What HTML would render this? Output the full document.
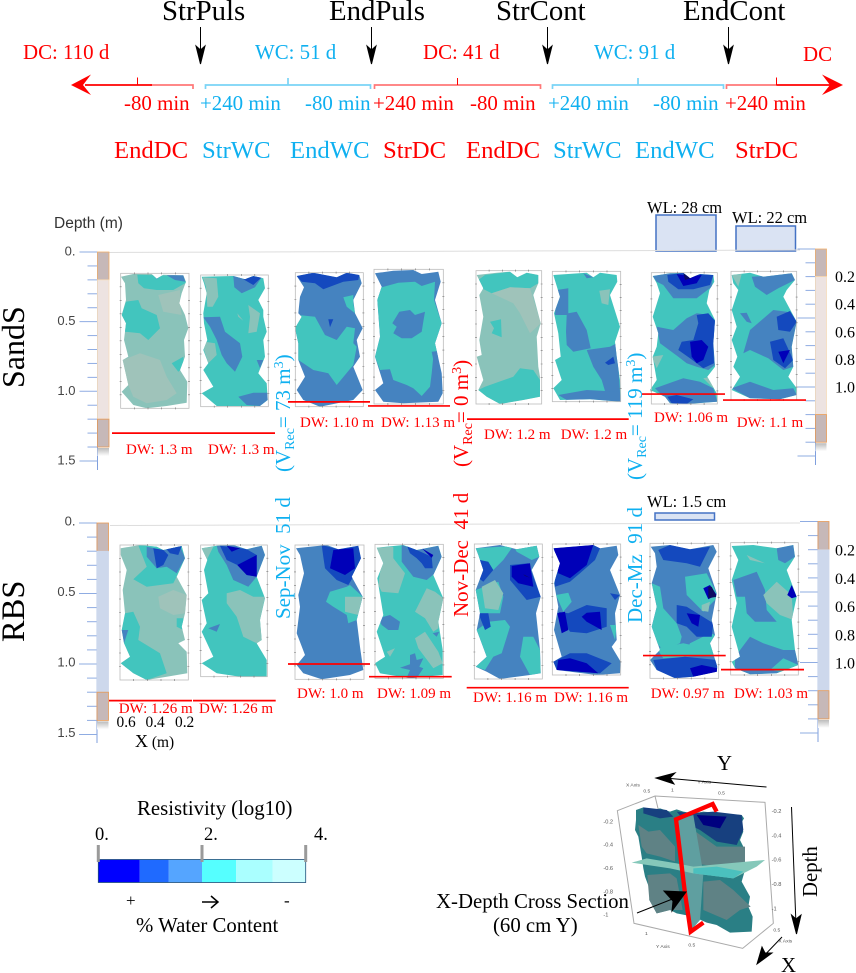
<!DOCTYPE html>
<html lang="en">
<head>
<meta charset="utf-8">
<title>Resistivity panels</title>
<style>
html,body{margin:0;padding:0;background:#fff;}
svg{display:block;}
text{font-family:"Liberation Serif",serif;}
.sans{font-family:"Liberation Sans",sans-serif;}
.r{fill:#FF0000;}
.b{fill:#0FB0F0;}
.k{fill:#000;}
</style>
</head>
<body>
<svg id="fig" xmlns="http://www.w3.org/2000/svg" width="856" height="973" viewBox="0 0 856 973">
<defs>
<linearGradient id="fade" x1="0" y1="0" x2="0" y2="1"><stop offset="0" stop-color="#bbb"/><stop offset="1" stop-color="#fff"/></linearGradient>
</defs>

<!-- timeline -->
<g>
<g font-size="28.8" class="k">
<text x="162" y="20">StrPuls</text>
<text x="329" y="20">EndPuls</text>
<text x="496" y="20">StrCont</text>
<text x="683" y="20">EndCont</text>
</g>
<g stroke="#000" stroke-width="1" fill="#000">
<path d="M200.5 27V50"/><path d="M200.5 64L196 46L200.5 50L205 46Z"/>
<path d="M371.5 27V50"/><path d="M371.5 64L367 46L371.5 50L376 46Z"/>
<path d="M547.5 27V50"/><path d="M547.5 64L543 46L547.5 50L552 46Z"/>
<path d="M728.5 27V50"/><path d="M728.5 64L724 46L728.5 50L733 46Z"/>
</g>
<g font-size="20.9">
<text class="r" x="23" y="59">DC: 110 d</text>
<text class="b" x="255" y="59">WC: 51 d</text>
<text class="r" x="423" y="59">DC: 41 d</text>
<text class="b" x="594" y="59">WC: 91 d</text>
<text class="r" x="803" y="61">DC</text>
<text class="r" x="124" y="110">-80 min</text>
<text class="b" x="200" y="110">+240 min</text>
<text class="b" x="305" y="110">-80 min</text>
<text class="r" x="373" y="110">+240 min</text>
<text class="r" x="470" y="110">-80 min</text>
<text class="b" x="548" y="110">+240 min</text>
<text class="b" x="653" y="110">-80 min</text>
<text class="r" x="725" y="110">+240 min</text>
</g>
<g font-size="24.7">
<text class="r" x="114" y="158">EndDC</text>
<text class="b" x="202" y="158">StrWC</text>
<text class="b" x="290" y="158">EndWC</text>
<text class="r" x="383" y="158">StrDC</text>
<text class="r" x="466" y="158">EndDC</text>
<text class="b" x="553" y="158">StrWC</text>
<text class="b" x="635" y="158">EndWC</text>
<text class="r" x="735" y="158">StrDC</text>
</g>
<g fill="none" stroke-width="1.7">
<path stroke="#FF7878" d="M150 85H193V89"/>
<path stroke="#FF0000" d="M85 85H152"/>
<path stroke="#FF0000" stroke-width="1" d="M137.5 85V77.5"/>
<path stroke="#7AD4F6" d="M205.5 89V85H370.5V89M288 85V78"/>
<path stroke="#FF7878" d="M374.5 89V85H540.5V89"/>
<path stroke="#FF0000" stroke-width="1" d="M457.5 85V78"/>
<path stroke="#7AD4F6" d="M552.5 89V85H723.5V89M638 85V78"/>
<path stroke="#FF7878" d="M726.5 89V85H777"/>
<path stroke="#FF0000" d="M776.5 85H830"/>
<path stroke="#FF0000" stroke-width="1" d="M776.5 85V77.5"/>
</g>
<path fill="#FF0000" d="M71 85L91 74.5L83 85L91 95Z"/>
<path fill="#FF0000" d="M843 85L822 74.5L830 85L822 95Z"/>
</g>

<!-- side / row labels -->
<text font-size="32" transform="translate(24,388) rotate(-90)">SandS</text>
<text font-size="32.5" transform="translate(24,642) rotate(-90)">RBS</text>
<text class="sans" font-size="15.5" fill="#333" x="54" y="228">Depth (m)</text>

<!-- water level boxes -->
<g fill="#DAE3F3" stroke="#4472C4" stroke-width="1.5">
<rect x="656" y="215" width="60" height="36"/>
<rect x="736" y="226" width="59.5" height="25"/>
<rect x="655" y="513" width="59.5" height="7"/>
</g>
<g font-size="16.5" class="k">
<text x="647" y="213">WL: 28 cm</text>
<text x="732" y="223">WL: 22 cm</text>
<text x="647" y="507">WL: 1.5 cm</text>
</g>

<!-- surface lines -->
<path d="M109 252.5L800 250" stroke="#ddd" stroke-width="1" fill="none"/>
<path d="M110 525.5L800 523" stroke="#ddd" stroke-width="1" fill="none"/>

<g id="scales"></g>
<g id="panels"></g>
<g id="dw"></g>

<!-- rotated notes -->
<g font-size="21">
<text class="b" transform="translate(290,472) rotate(-90)">(V<tspan dy="4" font-size="14">Rec</tspan><tspan dy="-4">= 73 m</tspan><tspan dy="-7" font-size="14">3</tspan><tspan dy="7">)</tspan></text>
<text class="r" transform="translate(468,467) rotate(-90)">(V<tspan dy="4" font-size="14">Rec</tspan><tspan dy="-4">= 0 m</tspan><tspan dy="-7" font-size="14">3</tspan><tspan dy="7">)</tspan></text>
<text class="b" transform="translate(642,480) rotate(-90)">(V<tspan dy="4" font-size="14">Rec</tspan><tspan dy="-4">= 119 m</tspan><tspan dy="-7" font-size="14">3</tspan><tspan dy="7">)</tspan></text>
<text class="b" xml:space="preserve" transform="translate(290,619) rotate(-90)">Sep-Nov  51 d</text>
<text class="r" xml:space="preserve" transform="translate(468,617) rotate(-90)">Nov-Dec  41 d</text>
<text class="b" xml:space="preserve" transform="translate(642,623) rotate(-90)">Dec-Mz  91 d</text>
</g>

<!-- x axis note -->
<g font-size="15.4" class="k">
<text x="116.5" y="727">0.6</text><text x="145.5" y="727">0.4</text><text x="175" y="727">0.2</text>
<text x="135" y="747"><tspan font-size="18">X</tspan> (m)</text>
</g>

<!-- colour bar -->
<g id="colorbar"></g>
<g font-size="20.8" class="k">
<text x="137" y="815">Resistivity (log10)</text>
<text x="136" y="932">% Water Content</text>
</g>
<g font-size="18.5" class="k">
<text x="95" y="840">0.</text><text x="204" y="840">2.</text><text x="314" y="840">4.</text>
<text x="126" y="906" font-size="17">+</text>
<text x="284" y="906" font-size="17">-</text>
</g>
<path d="M202 902H217M211 896L218 902L211 908" fill="none" stroke="#000" stroke-width="1.5"/>

<!-- 3D view -->
<g id="cube" transform="translate(560,750) scale(0.33333)"></g>
<g font-size="20.8" class="k">
<text x="436" y="908">X-Depth Cross Section</text>
<text x="493" y="932">(60 cm Y)</text>
<text x="717" y="770">Y</text>
<text x="781" y="972">X</text>
<text transform="translate(817,897) rotate(-90)">Depth</text>
</g>
<g stroke="#000" stroke-width="1" fill="#000">
<path d="M766.5 787L665 778"/><path d="M656 778L675 773L670 778L674 784Z"/>
<path d="M791.5 807L796 925"/><path d="M796.5 934L791.5 915L796 919L801 915Z"/>
<path d="M782 937L760 960"/><path d="M757 964L762 947L765 953L772 953Z"/>
<path d="M637 913L680 896"/><path d="M686 892L672 911L673 901L664 891Z"/>
</g>

<script>
// ---- depth scale data ----
var depthTicks = [0,0.1,0.2,0.3,0.4,0.5,0.6,0.7,0.8,0.9,1.0,1.1,1.2,1.3,1.4,1.5];
var leftDepthLabels = ["0.","0.5","1.0","1.5"];
var leftDepthLabelValues = [0,0.5,1.0,1.5];
var rightDepthLabels = ["0.2","0.4","0.6","0.8","1.0"];
var rightDepthLabelValues = [0.2,0.4,0.6,0.8,1.0];
// ---- water table depths (m) as drawn, and printed labels ----
var dwSandS = [1.3,1.3,1.076,1.105,1.2,1.2,1.02,1.063];
var dwRBS = [1.26,1.26,1.0,1.09,1.168,1.168,0.94,1.04];
var dwLabelsSandS = ["DW: 1.3 m","DW: 1.3 m","DW: 1.10 m","DW: 1.13 m","DW: 1.2 m","DW: 1.2 m","DW: 1.06 m","DW: 1.1 m"];
var dwLabelsRBS = ["DW: 1.26 m","DW: 1.26 m","DW: 1.0 m","DW: 1.09 m","DW: 1.16 m","DW: 1.16 m","DW: 0.97 m","DW: 1.03 m"];
// ---- colour bar ----
var colorStops = [0,0.4,0.68,1.0,1.33,1.68,2.0];
var colorSwatches = ["#0000FF","#1F6AFF","#55A5FF","#55FFFF","#AAFFFF","#CCFFFF"];

var NS = "http://www.w3.org/2000/svg";
function mk(parent, tag, attrs){
  var el = document.createElementNS(NS, tag);
  for (var k in attrs) el.setAttribute(k, attrs[k]);
  parent.appendChild(el);
  return el;
}
function depthScale(y0, pxPerM){ return function(d){ return y0 + d*pxPerM; }; }
var ySandSL = depthScale(252, 139.3);
var ySandSR = depthScale(249, 138);
var yRBSL = depthScale(523, 141);
var yRBSR = depthScale(521.5, 141);

function drawScale(y, axisX, dir, barW, name, zones, endY){
  var g = document.getElementById("scales");
  var ax = mk(g, "path", {d:"M"+axisX+" "+y(0)+"V"+endY, stroke:"#7F9FDD", "stroke-width":1, fill:"none"});
  
  
  depthTicks.forEach(function(d,i){
    var len = (i%5===0) ? 18 : 10;
    var t = mk(g, "path", {d:"M"+(axisX-len)+" "+y(d)+"H"+axisX, stroke:"#8FACE2", "stroke-width":1});
    
    
  });
  zones.forEach(function(z){
    var r = mk(g, "rect", {x:axisX, y:y(z[0]), width:barW, height:y(z[1])-y(z[0]), fill:z[2], stroke:z[3], "stroke-width":0.8});
    
    
  });
  var f = mk(g, "rect", {x:axisX, y:y(zones[zones.length-1][1])+1, width:barW, height:8, fill:"url(#fade)"});
  
  
}
var sandZones = [[0,0.2,"#C6B8B8","#F2B06A"],[0.2,1.2,"#EDE3E1","#F7DDBB"],[1.2,1.4,"#C6B8B8","#E89A55"]];
var rbsZones = [[0,0.2,"#C6B8B8","#E89A55"],[0.2,1.2,"#CDD8EC","#CDD8EC"],[1.2,1.4,"#C6B8B8","#E89A55"]];
drawScale(ySandSL, 97.5, -1, 11.5, "sands-left-scale", sandZones, 470);
drawScale(ySandSR, 815.5, -1, 11, "sands-right-scale", sandZones, 465);
drawScale(yRBSL, 97, -1, 11.5, "rbs-left-scale", rbsZones, 743);
drawScale(yRBSR, 818, -1, 11, "rbs-right-scale", rbsZones, 742);

function axisLabels(parent, y, labels, values, x, anchor, sans, size, color, dy, name){
  labels.forEach(function(s,i){
    var t = mk(parent, "text", {x:x, y:y(values[i])+dy, "font-size":size, fill:color, "text-anchor":anchor});
    if (sans) t.setAttribute("class","sans");
    
    
    t.textContent = s;
  });
}
var sg = document.getElementById("scales");
axisLabels(sg, ySandSL, leftDepthLabels, leftDepthLabelValues, 75.5, "end", true, 13, "#444", 3.5, "sands-depth-label");
axisLabels(sg, yRBSL, leftDepthLabels, leftDepthLabelValues, 75.5, "end", true, 13, "#444", 2.5, "rbs-depth-label");
axisLabels(sg, ySandSR, rightDepthLabels, rightDepthLabelValues, 835, "start", false, 16, "#000", 5.5, "sands-right-label");
axisLabels(sg, yRBSR, rightDepthLabels, rightDepthLabelValues, 835, "start", false, 16, "#000", 6, "rbs-right-label");

// ---- panel contours (sketch units, 3 per pixel) ----
var C = {T:"#42C5BE",G:"#8AC3BA",L:"#9FC3BA",B:"#4583C0",D:"#1449BE",N:"#0000B8",K:"#0C0A60"};
var panelShapes = [
{o:[0,200],f:[362,220,205,405],base:"G",out:"363,230 400,222 455,222 470,236 490,224 550,226 558,245 545,280 538,310 555,345 565,385 552,420 555,470 540,510 562,545 560,608 500,618 440,625 400,615 365,575 385,555 368,480 385,470 372,420 378,370 365,345 378,300 375,250",
 p:[["T","412,224 550,228 558,248 520,270 470,270 432,265 415,250"],["B","458,222 490,222 470,238"],["B","500,226 550,226 556,245 525,240"],["T","378,305 415,300 425,325 470,345 480,385 445,420 420,400 375,395 365,345"],["L","475,285 540,270 540,310 545,345 490,335"],["L","368,480 420,460 480,480 500,530 530,580 500,600 440,610 400,590 385,555"],["T","515,490 550,470 553,500 535,515"]]},
{o:[0,200],f:[602,225,203,395],base:"T",out:"605,230 700,228 735,238 760,228 790,235 795,265 775,300 790,330 790,350 800,395 790,420 795,470 775,520 800,550 803,600 780,618 650,618 605,580 640,560 610,510 625,490 610,450 622,420 612,370 610,340 620,280 612,250",
 p:[["G","608,232 650,235 655,290 638,320 622,320 618,260"],["B","700,228 760,230 785,232 765,262 725,280 703,262"],["D","730,238 760,228 785,232 760,255"],["B","610,352 660,350 675,395 720,430 727,470 705,515 680,490 665,465 650,420 630,380"],["B","715,590 760,578 803,578 803,600 780,618 740,615"],["G","745,315 780,340 770,395 745,400 750,350"],["G","712,340 730,362 715,350"],["G","615,425 645,430 650,465 625,490 612,450"],["B","770,480 790,480 780,505"]]},
{o:[0,200],f:[886,218,204,402],base:"B",out:"890,228 940,218 1010,232 1040,218 1078,225 1085,250 1060,300 1065,340 1088,385 1070,420 1080,470 1060,500 1088,570 1060,600 960,620 910,600 890,570 915,530 895,480 895,430 885,385 905,350 895,340 900,290 912,262",
 p:[["D","890,228 940,218 1010,232 1040,218 1078,225 1075,240 1030,245 970,268 945,250 905,245"],["T","895,345 945,350 975,405 1010,420 1040,380 1065,385 1060,430 1070,440 1060,495 1010,555 985,520 940,510 910,490 895,480 895,430 885,385"],["T","1030,292 1060,285 1060,310 1065,340 1040,320"],["D","985,358 1000,358 990,382"]]},
{o:[360,260],f:[42,28,208,404],base:"B",out:"45,40 100,32 160,30 185,42 235,35 242,65 225,120 245,190 225,250 245,340 248,400 235,425 130,430 70,425 45,390 70,370 45,290 60,230 52,120 65,80",
 p:[["T","55,85 115,68 165,65 185,78 225,65 222,120 245,190 228,250 240,270 220,290 215,340 210,380 185,408 160,385 140,375 100,360 90,328 60,330 45,290 60,230 52,120"],["B","118,155 150,150 165,165 195,155 190,185 185,215 155,235 125,235 100,220 110,200 97,190"],["B","215,275 240,272 230,310 220,300"]]},
{o:[430,200],f:[138,212,197,400],base:"G",out:"140,225 200,218 240,215 262,232 290,218 325,225 325,250 310,285 332,370 320,410 325,500 330,530 330,590 280,600 210,612 170,590 145,570 160,540 140,470 155,465 148,420 160,350 148,285 160,265",
 p:[["T","145,570 165,560 250,530 270,505 310,510 330,540 330,590 280,600 210,612 170,590"],["T","165,225 240,215 262,232 290,218 325,225 325,250 300,265 240,262 185,280 155,265 145,240"],["T","180,365 213,358 215,412 185,400 192,385"],["L","185,280 240,262 300,265 332,370 300,400 270,340 250,310"]]},
{o:[430,200],f:[367,214,205,391],base:"T",out:"370,225 470,218 490,232 510,218 560,225 562,245 540,285 570,380 555,425 560,470 570,540 572,605 480,598 390,600 370,565 395,540 375,480 392,470 385,400 372,340 390,290",
 p:[["B","380,270 415,265 415,340 440,335 470,390 482,445 430,455 410,435 408,395 410,345 375,345"],["B","470,450 540,440 560,430 565,500 570,575 530,590 515,540 490,500"],["B","385,585 470,570 570,575 572,605 480,598 410,600"],["D","525,488 550,470 555,490 535,495"],["G","508,272 540,268 535,315 515,310"],["B","460,220 490,232 470,235"]]},
{o:[430,200],f:[664,218,198,394],base:"T",out:"668,228 720,220 760,218 780,235 810,222 850,225 853,245 838,270 830,310 855,360 850,430 855,500 832,530 860,580 862,605 770,612 720,610 705,590 660,570 680,540 668,470 680,440 685,400 668,350 690,280 680,250",
 p:[["B","668,228 720,220 850,225 845,260 800,295 730,295 700,255 680,245"],["D","712,225 760,218 780,235 810,222 850,225 840,255 790,268 745,268 715,245"],["N","740,222 780,228 815,225 800,250 760,258"],["K","760,220 782,235 765,240"],["B","680,380 730,390 770,355 800,340 840,345 855,365 850,430 855,495 835,510 800,500 770,490 745,470 690,430"],["D","800,345 835,340 858,365 850,430 852,490 820,505 780,475 745,450 755,425 790,420 805,370"],["N","780,425 815,420 835,440 820,480 800,490 785,470"],["B","675,565 730,545 760,535 810,545 850,565 862,605 770,612 720,610"],["D","712,590 740,585 790,598 770,612 725,610"],["G","665,470 700,465 680,505"],["G","820,535 845,530 860,560 850,565"]]},
{o:[430,200],f:[903,214,197,386],base:"T",out:"905,225 960,218 1000,230 1085,220 1095,240 1070,270 1060,290 1100,365 1085,440 1090,500 1075,530 1100,565 1100,585 1050,598 960,595 905,570 930,530 910,500 922,470 905,420 920,380 905,330 925,270 910,250",
 p:[["B","965,230 1000,228 1085,220 1095,240 1045,265 1010,285 975,260"],["G","905,225 935,222 925,260"],["B","930,340 950,338 965,370 950,365"],["B","960,390 1030,330 1070,335 1100,365 1085,440 1090,500 1060,510 1015,475 960,450 940,460"],["D","1040,350 1080,333 1100,365 1080,395 1045,390"],["D","1020,425 1060,415 1090,480 1065,505 1030,480"],["N","1045,455 1080,450 1060,490"],["B","905,565 960,545 1030,570 1090,565 1100,585 1050,598 960,595"]]},
{o:[0,480],f:[360,195,205,405],base:"G",out:"362,205 420,195 470,200 490,210 545,198 555,235 530,290 560,345 555,400 545,440 555,480 535,490 560,515 562,580 500,590 440,600 400,580 362,550 390,530 372,490 365,450 375,400 368,330 380,270 362,225",
 p:[["T","415,196 545,198 555,235 535,280 520,310 440,320 400,298 440,260"],["B","440,200 490,210 540,198 555,235 530,280 500,260 470,265 440,230"],["D","460,205 490,210 505,225 490,255 470,265"],["D","497,205 545,198 535,225 510,220"],["T","375,400 400,395 420,440 415,480 480,520 500,580 440,600 400,580 362,550 390,530 372,490 365,450"],["T","530,415 550,415 550,450 530,440"],["L","475,350 520,330 560,345 555,400 520,405 480,385"],["B","365,450 385,450 372,490"]]},
{o:[0,480],f:[602,195,200,395],base:"T",out:"605,205 650,197 700,195 740,208 785,197 795,225 770,290 795,355 780,420 785,480 770,490 800,540 800,590 720,590 650,580 605,550 640,530 605,455 620,430 605,360 625,340 612,270 622,240",
 p:[["G","680,340 720,330 760,350 795,350 780,420 785,480 770,490 730,470 710,410 680,370"],["B","650,197 700,195 740,208 785,197 795,225 770,290 745,320 700,300 680,255 655,215"],["D","660,197 720,205 740,208 770,225 770,290 740,285 712,255 680,240"],["N","680,197 720,205 695,215"],["N","712,255 770,225 770,290 740,285"],["G","605,205 640,200 620,240"],["B","625,445 660,432 650,455"]]},
{o:[0,480],f:[885,195,207,403],base:"B",out:"888,205 980,195 1015,208 1075,197 1083,235 1055,290 1088,350 1070,420 1080,500 1090,570 1050,585 965,598 910,580 890,555 915,525 890,460 900,380 895,345 912,280 900,225",
 p:[["D","965,195 1015,208 1075,197 1083,235 1060,290 1045,315 1010,300 975,265 970,230"],["N","1000,210 1020,208 1060,205 1065,265 1035,285 990,265"],["T","990,335 1040,320 1050,315 1088,350 1070,420 1045,430 1040,405 1000,380 978,365"],["G","1035,350 1088,350 1075,405 1035,395"]]},
{o:[360,535],f:[45,28,205,402],base:"T",out:"50,38 130,30 170,45 235,32 245,65 220,120 250,190 235,260 248,345 248,420 150,430 60,415 45,385 75,365 50,290 70,240 52,130 70,85",
 p:[["B","125,30 170,45 235,32 245,65 225,115 200,135 160,125 125,80"],["D","140,30 170,45 215,65 218,100 195,100 185,85 170,70 150,55"],["N","185,40 220,60 215,68"],["G","50,38 100,35 100,70 135,115 115,175 65,170 55,150 62,100 70,85"],["G","165,230 200,160 225,170 250,190 235,280 220,290 195,250"],["G","165,310 195,290 235,350 248,385 220,400 175,340"],["B","55,250 90,240 120,260 115,285 85,285 65,270"],["B","218,295 238,290 230,305"],["B","150,360 165,355 170,375 190,370 178,395 190,400 170,430 140,428 150,405 120,398 150,388"],["G","80,350 105,340 90,365"]]},
{o:[430,480],f:[133,192,204,405],base:"B",out:"137,205 210,195 260,208 320,197 328,230 305,270 332,350 318,400 330,510 332,580 300,585 210,597 170,575 137,560 170,530 140,450 150,400 137,330 160,270 145,225",
 p:[["T","137,205 250,198 220,240 190,270 150,300 160,270 145,225"],["T","250,198 320,197 328,230 305,240 260,215"],["T","137,330 205,305 220,350 210,400 150,400"],["G","155,320 195,300 220,340 205,390 165,385"],["T","140,450 175,425 225,420 240,440 215,520 190,530 165,570 137,560 170,530"],["T","280,470 310,470 330,510 332,580 300,585 270,530"],["D","240,255 295,250 332,350 290,360 240,300"],["N","245,258 300,250 310,320 265,310 245,290"],["D","150,240 175,245 190,270 160,305 140,290"],["D","145,400 175,400 182,440 165,450"],["K","280,283 300,293 285,288"]]},
{o:[430,480],f:[367,192,205,393],base:"B",out:"370,205 490,195 510,205 560,197 565,225 540,270 570,345 555,400 560,480 545,500 572,545 570,580 500,585 380,570 370,545 395,530 372,450 385,380 372,310 390,250",
 p:[["D","372,205 490,195 510,205 495,240 450,280 420,305 375,320"],["N","372,205 490,195 470,255 420,295 385,280"],["T","378,345 415,338 425,365 400,395"],["T","540,435 560,435 555,480"],["D","385,395 415,400 470,375 530,385 530,440 470,460 420,455"],["N","382,400 405,395 415,450 395,460"],["N","470,398 510,395 515,450 470,425 455,410"],["D","370,545 420,520 470,520 545,550 510,580 380,570"],["N","385,540 420,535 470,550 505,580 380,570"],["D","540,340 570,345 555,360"]]},
{o:[430,480],f:[660,190,206,405],base:"B",out:"662,200 720,195 780,208 850,195 860,215 835,265 860,340 845,420 855,465 840,490 862,560 860,575 790,590 735,595 680,570 660,540 690,510 665,440 680,380 665,310 680,260 675,220",
 p:[["T","765,290 830,280 860,340 855,360 820,395 770,345"],["T","665,310 690,320 700,385 740,430 755,470 750,490 700,510 680,490 665,440 680,380"],["T","840,460 855,465 840,490 860,530 762,525 780,490"],["T","680,505 760,490 830,505 850,525 700,535"],["D","685,210 720,195 780,208 840,200 810,260 770,250 700,240"],["D","740,375 770,380 850,430 845,470 800,470 770,440 740,430"],["N","770,400 810,405 805,440 785,430"],["N","820,325 840,315 860,345 835,358"],["K","835,320 845,320 860,350 835,355"],["D","670,540 765,530 860,540 862,575 790,590 735,595 680,570"],["N","780,565 815,555 862,565 862,575 790,590"],["G","815,375 840,365 835,395 815,392"]]},
{o:[430,480],f:[902,188,203,397],base:"T",out:"905,198 970,195 1040,205 1090,195 1095,230 1070,270 1100,350 1085,420 1095,510 1105,555 1040,580 960,583 915,565 905,545 930,530 905,440 920,370 905,300 925,240",
 p:[["B","910,300 980,275 1005,330 1010,390 1040,425 975,425 950,400 945,350 920,350"],["B","1040,205 1090,195 1095,230 1065,250 1045,240"],["G","1000,345 1040,305 1085,345 1090,420 1050,405 1010,370"],["G","950,225 1005,250 960,240"],["B","915,530 960,470 1000,490 1060,510 1095,510 1105,555 1040,580 960,583 915,565"],["T","1020,570 1060,535 1105,555 1070,578"],["N","1072,345 1085,315 1100,350 1085,355"]]}
];

function sx(o,u){ return o[0] + u/3; }
function sy(o,v){ return o[1] + v/3; }
function mapPts(o, s){
  return s.split(" ").map(function(p){ var a=p.split(","); return sx(o,+a[0]).toFixed(1)+","+sy(o,+a[1]).toFixed(1); }).join(" ");
}
var pg = document.getElementById("panels");
panelShapes.forEach(function(P,i){
  var g = mk(pg, "g", {});
  
  
  var fx=sx(P.o,P.f[0]), fy=sy(P.o,P.f[1]), fw=P.f[2]/3, fh=P.f[3]/3;
  var cp = mk(g, "clipPath", {id:"cp"+i});
  mk(cp, "polygon", {points:mapPts(P.o,P.out)});
  var b = mk(g, "polygon", {points:mapPts(P.o,P.out), fill:C[P.base]});
  
  
  var inner = mk(g, "g", {"clip-path":"url(#cp"+i+")"});
  P.p.forEach(function(a){
    var q = mk(inner, "polygon", {points:mapPts(P.o,a[1]), fill:C[a[0]]});
    
    
  });
  var fr = mk(g, "rect", {x:fx, y:fy, width:fw, height:fh, fill:"none", stroke:"#BDBDBD", "stroke-width":0.8});
  
  
  var d = "";
  for (var k=1;k<5;k++){ var tx=fx+fw*k/5; d+="M"+tx.toFixed(1)+" "+(fy-1)+"v2M"+tx.toFixed(1)+" "+(fy+fh-1)+"v2"; }
  for (var m=1;m<10;m++){ var ty=fy+fh*m/10; d+="M"+(fx-1)+" "+ty.toFixed(1)+"h2M"+(fx+fw-1)+" "+ty.toFixed(1)+"h2"; }
  var tk = mk(g, "path", {d:d, stroke:"#777", "stroke-width":0.6, fill:"none"});
  
  
});

// ---- water table lines through the depth axes ----
var dwSpanSandS = [[112,194],[194,275],[288,370],[368,450],[467,548],[548,628.7],[642,725],[723,806]];
var dwSpanRBS = [[109,192],[193,275.7],[288,370],[369,451.7],[466.7,548],[548,628.7],[643,725.7],[721,804]];
var dwTextXSandS = [126,208,300,381,484,560.7,654,736.7];
var dwTextXRBS = [118.7,199,297,377,473,554,650.7,734];
var dwTextYSandS = [454,454,427,427,439,439,422,427];
var dwTextYRBS = [713,713,698,698,702,702,698,698];
var dwG = document.getElementById("dw");
function drawDW(vals, labels, spans, tx, ty, y, name){
  vals.forEach(function(v,i){
    var l = mk(dwG, "line", {x1:spans[i][0], x2:spans[i][1], y1:y(v), y2:y(v), stroke:"#FF0000", "stroke-width":1.7});
    
    
    var t = mk(dwG, "text", {x:tx[i], y:ty[i], "font-size":15, fill:"#FF0000"});
    
    
    t.textContent = labels[i];
  });
}
drawDW(dwSandS, dwLabelsSandS, dwSpanSandS, dwTextXSandS, dwTextYSandS, ySandSL, "sands");
drawDW(dwRBS, dwLabelsRBS, dwSpanRBS, dwTextXRBS, dwTextYRBS, yRBSL, "rbs");

// ---- colour bar ----
var cbG = document.getElementById("colorbar");
function cbX(v){ return 98.3 + v*103.7; }
colorSwatches.forEach(function(c,i){
  var r = mk(cbG, "rect", {x:cbX(colorStops[i]), y:859.5, width:cbX(colorStops[i+1])-cbX(colorStops[i]), height:23, fill:c});
  
  
});
var cbO = mk(cbG, "rect", {x:98.3, y:859.5, width:207.4, height:23, fill:"none", stroke:"#1F4E79", "stroke-width":0.8});


[0,1,2].forEach(function(v){
  var t = mk(cbG, "rect", {x:cbX(v)-1.5, y:845, width:3, height:17, fill:"#9A9A9A"});
  
  
});

// ---- 3D view (sketch units) ----
var cube = document.getElementById("cube");
var cubeAxisText = ["-0.2","-0.4","-0.6","-0.8","-1"];
var cubeDepthValues = [0.2,0.4,0.6,0.8,1.0];
function cubeLeftY(d){ return 142 + d*350; }
function cubeRightY(d){ return 108 + d*365; }
var boxL = mk(cube, "path", {d:"M172 182L285 138L615 157L640 520L548 595L222 520ZM285 138L300 200", fill:"none", stroke:"#aaa", "stroke-width":3});


var cubeFills = [
 ["#2A7F85","228,180 250,172 280,180 300,175 330,185 350,178 370,185 400,190 430,185 460,188 500,192 545,195 552,205 540,225 550,245 540,270 555,300 550,340 555,360 545,395 570,440 565,470 578,500 575,545 510,548 470,525 440,518 400,500 350,490 330,480 290,490 268,450 270,420 255,380 250,355 245,320 240,290 235,260 225,240 228,210"],
 ["#5F8285","235,225 265,245 300,240 345,290 345,335 300,320 260,310 245,290"],
 ["#5F8285","400,240 470,290 555,290 555,360 400,340"],
 ["#5F8285","262,375 330,370 350,385 368,480 330,480 290,490 268,450"],
 ["#5F8285","430,395 480,390 520,420 572,470 540,480 500,510 430,480"],
 ["#17407F","350,185 400,190 460,185 545,195 550,240 530,285 470,275 420,240 380,220"],
 ["#00007F","410,195 500,200 480,235 430,225"],
 ["#17407F","250,172 320,180 340,200 300,205 250,190"],
 ["#5F9FA0","350,210 400,195 430,370 420,510 390,545 375,430"],
 ["#85C8BA","215,338 260,325 350,340 400,350 450,345 615,330 590,350 520,385 400,370 330,355"],
 ["#4BC0BE","400,355 470,350 550,365 520,385 400,370"]
];
cubeFills.forEach(function(f){
  var q = mk(cube, "polygon", {points:f[1], fill:f[0]});
  
  
});
var red = mk(cube, "polyline", {points:"470,185 458,162 348,208 375,430 392,545 430,518", fill:"none", stroke:"#FF0000", "stroke-width":13});


cubeAxisText.forEach(function(s,i){
  var a = mk(cube, "text", {x:130, y:cubeLeftY(cubeDepthValues[i])+8, "font-size":17, fill:"#555", class:"sans"});
  
  
  a.textContent = s;
  var b2 = mk(cube, "text", {x:635, y:cubeRightY(cubeDepthValues[i])+8, "font-size":17, fill:"#555", class:"sans"});
  
  
  b2.textContent = s;
});
var cubeTopLabels = ["X Axis","0.5","1","0.5","Y Axis"];
var cubeTopSpots = [[198,110],[250,128],[333,124],[474,134],[412,100]];
cubeTopLabels.forEach(function(s,i){
  var t = mk(cube, "text", {x:cubeTopSpots[i][0], y:cubeTopSpots[i][1], "font-size":15, fill:"#555", class:"sans"});
  
  
  t.textContent = s;
});
var cubeBottomLabels = ["1","0.5","Y Axis","0.5","X Axis"];
var cubeBottomSpots = [[255,555],[385,590],[288,594],[640,545],[655,578]];
cubeBottomLabels.forEach(function(s,i){
  var t = mk(cube, "text", {x:cubeBottomSpots[i][0], y:cubeBottomSpots[i][1], "font-size":15, fill:"#555", class:"sans"});
  
  
  t.textContent = s;
});
</script>
</svg>
</body>
</html>
